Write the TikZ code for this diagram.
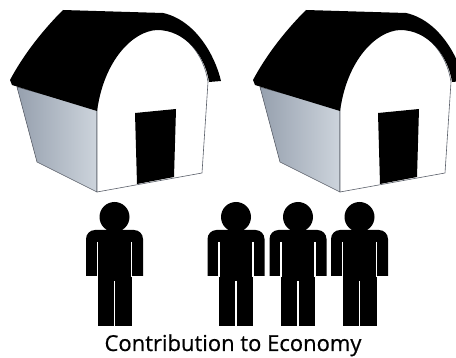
\documentclass[tikz,border=0pt]{standalone}
\usepackage{fontspec}
\setsansfont[FakeBold=0.6]{Open Sans}
\definecolor{sidedark}{RGB}{150,160,174}
\definecolor{sidelight}{RGB}{205,212,220}
\definecolor{edge}{RGB}{90,95,105}
\begin{document}
\begin{tikzpicture}[x=1pt,y=-1pt, line join=round, line cap=round,
    wall/.style={draw=edge, line width=.6pt},
    cut/.style={white, line width=1.6pt, line cap=butt}]
    \useasboundingbox (0,0) rectangle (456,358);
    \clip (0,0) rectangle (456,358);
    % the two barns
    \foreach \dx in {0,243}{
        \begin{scope}[xshift=\dx]
            % side wall
            \shade[wall, left color=sidedark, right color=sidelight]
                (17,87) -- (97,109) -- (97,192) -- (37,162) -- cycle;
            % gable front
            \filldraw[wall, fill=white] (97,109) -- (97,192) -- (202,173) -- (208,82)
                .. controls (204,55) and (185,29) .. (157,29)
                .. controls (133,30) and (103,60) .. (97,109) -- cycle;
            % roof
            \fill (63,10) -- (163,13)
                .. controls (195,20) and (215,55) .. (221,81) -- (209,82)
                .. controls (205,55) and (185,30) .. (157,30)
                .. controls (133,31) and (104,60) .. (97,111) -- (12,85) -- (10,80)
                .. controls (25,52) and (45,28) .. (63,10) -- cycle;
            % door
            \fill (135,113) -- (176,109) -- (174,177) -- (137,184) -- cycle;
        \end{scope}
    }
    % people
    \foreach \cx in {114.5,236,298,359.5}{
        \fill (\cx,217) circle (15pt);
        \fill (\cx-28.5,276) [rounded corners=9pt] -- (\cx-28.5,230) -- (\cx+28.5,230)
            [sharp corners] -- (\cx+28.5,276) -- cycle;
        \fill (\cx-17,270) rectangle (\cx+17,326);
        \draw[cut] (\cx-17,242) -- (\cx-17,277) (\cx+17,242) -- (\cx+17,277)
            (\cx,281) -- (\cx,327);
    }
    \node[font=\sffamily\fontsize{22}{22}\selectfont, anchor=base] (caption) at (233,351) {Contribution to Economy};
\end{tikzpicture}
\end{document}
